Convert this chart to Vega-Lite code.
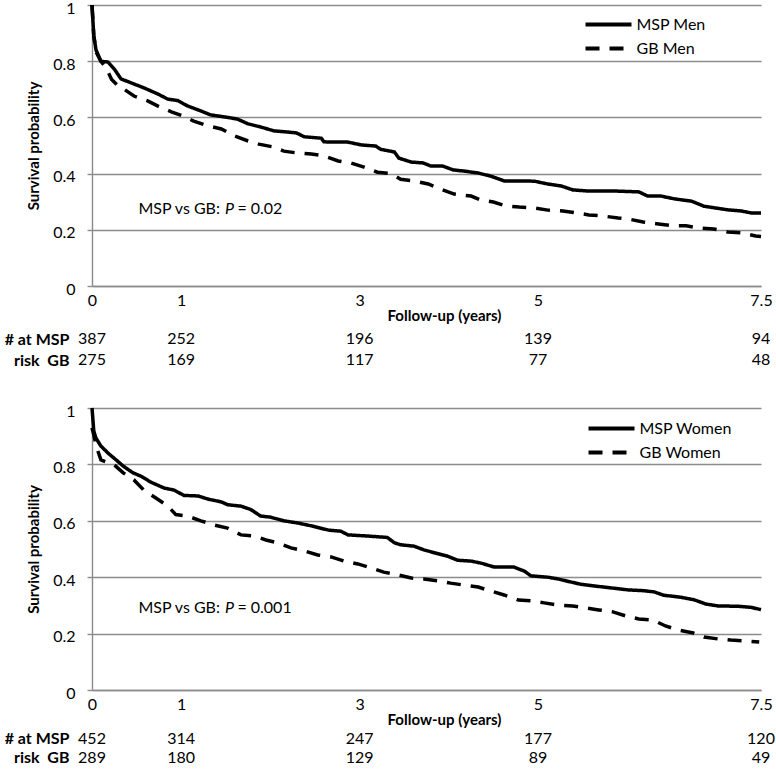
{
  "$schema": "https://vega.github.io/schema/vega-lite/v6.json",
  "padding": {"left": 4, "top": -2, "right": 5, "bottom": 0},
  "config": {
    "font": "Lato",
    "view": {"stroke": null},
    "axis": {"labelFont": "Lato", "labelFontSize": 16, "labelColor": "#000", "titleFont": "Lato", "titleFontSize": 15, "titleFontWeight": "bold", "titleColor": "#000", "gridColor": "#8c8c8c", "gridWidth": 1.4, "domainColor": "#8c8c8c", "domainWidth": 1.4, "tickColor": "#8c8c8c", "tickWidth": 1.4},
    "legend": {"orient": "none", "title": null, "symbolType": "M-2,0H2", "symbolSize": 529, "symbolStrokeWidth": 4, "symbolStrokeColor": "#000", "labelFont": "Lato", "labelFontSize": 16, "labelColor": "#000", "rowPadding": 2, "labelOffset": 14.5, "padding": 0}
  },
  "resolve": {"scale": {"strokeDash": "independent"}, "legend": {"strokeDash": "independent"}},
  "datasets": {
    "men": [
      {"g": "MSP Men", "t": 0, "s": 1.0}, {"g": "MSP Men", "t": 0.02, "s": 0.89}, {"g": "MSP Men", "t": 0.045, "s": 0.84}, {"g": "MSP Men", "t": 0.1, "s": 0.8}, {"g": "MSP Men", "t": 0.18, "s": 0.797}, {"g": "MSP Men", "t": 0.25, "s": 0.772}, {"g": "MSP Men", "t": 0.325, "s": 0.737}, {"g": "MSP Men", "t": 0.47, "s": 0.719}, {"g": "MSP Men", "t": 0.59, "s": 0.704}, {"g": "MSP Men", "t": 0.74, "s": 0.683}, {"g": "MSP Men", "t": 0.85, "s": 0.665}, {"g": "MSP Men", "t": 0.96, "s": 0.66}, {"g": "MSP Men", "t": 1.07, "s": 0.641}, {"g": "MSP Men", "t": 1.22, "s": 0.623}, {"g": "MSP Men", "t": 1.33, "s": 0.609}, {"g": "MSP Men", "t": 1.52, "s": 0.6}, {"g": "MSP Men", "t": 1.63, "s": 0.594}, {"g": "MSP Men", "t": 1.75, "s": 0.577}, {"g": "MSP Men", "t": 1.89, "s": 0.566}, {"g": "MSP Men", "t": 2.04, "s": 0.552}, {"g": "MSP Men", "t": 2.19, "s": 0.548}, {"g": "MSP Men", "t": 2.29, "s": 0.545}, {"g": "MSP Men", "t": 2.38, "s": 0.531}, {"g": "MSP Men", "t": 2.57, "s": 0.526}, {"g": "MSP Men", "t": 2.6, "s": 0.513}, {"g": "MSP Men", "t": 2.87, "s": 0.512}, {"g": "MSP Men", "t": 3.02, "s": 0.502}, {"g": "MSP Men", "t": 3.18, "s": 0.498}, {"g": "MSP Men", "t": 3.24, "s": 0.486}, {"g": "MSP Men", "t": 3.39, "s": 0.477}, {"g": "MSP Men", "t": 3.44, "s": 0.455}, {"g": "MSP Men", "t": 3.58, "s": 0.441}, {"g": "MSP Men", "t": 3.71, "s": 0.438}, {"g": "MSP Men", "t": 3.8, "s": 0.427}, {"g": "MSP Men", "t": 3.93, "s": 0.427}, {"g": "MSP Men", "t": 4.05, "s": 0.413}, {"g": "MSP Men", "t": 4.17, "s": 0.409}, {"g": "MSP Men", "t": 4.33, "s": 0.402}, {"g": "MSP Men", "t": 4.47, "s": 0.391}, {"g": "MSP Men", "t": 4.62, "s": 0.374}, {"g": "MSP Men", "t": 4.81, "s": 0.374}, {"g": "MSP Men", "t": 4.96, "s": 0.373}, {"g": "MSP Men", "t": 5.11, "s": 0.363}, {"g": "MSP Men", "t": 5.26, "s": 0.356}, {"g": "MSP Men", "t": 5.39, "s": 0.342}, {"g": "MSP Men", "t": 5.56, "s": 0.338}, {"g": "MSP Men", "t": 5.86, "s": 0.338}, {"g": "MSP Men", "t": 6.13, "s": 0.335}, {"g": "MSP Men", "t": 6.23, "s": 0.32}, {"g": "MSP Men", "t": 6.38, "s": 0.32}, {"g": "MSP Men", "t": 6.53, "s": 0.31}, {"g": "MSP Men", "t": 6.72, "s": 0.302}, {"g": "MSP Men", "t": 6.86, "s": 0.284}, {"g": "MSP Men", "t": 6.98, "s": 0.278}, {"g": "MSP Men", "t": 7.13, "s": 0.271}, {"g": "MSP Men", "t": 7.28, "s": 0.267}, {"g": "MSP Men", "t": 7.39, "s": 0.26}, {"g": "MSP Men", "t": 7.5, "s": 0.26},
      {"g": "GB Men", "t": 0, "s": 1.0}, {"g": "GB Men", "t": 0.02, "s": 0.89}, {"g": "GB Men", "t": 0.05, "s": 0.83}, {"g": "GB Men", "t": 0.1, "s": 0.8}, {"g": "GB Men", "t": 0.16, "s": 0.775}, {"g": "GB Men", "t": 0.22, "s": 0.735}, {"g": "GB Men", "t": 0.3, "s": 0.71}, {"g": "GB Men", "t": 0.36, "s": 0.7}, {"g": "GB Men", "t": 0.47, "s": 0.676}, {"g": "GB Men", "t": 0.63, "s": 0.658}, {"g": "GB Men", "t": 0.74, "s": 0.64}, {"g": "GB Men", "t": 0.89, "s": 0.62}, {"g": "GB Men", "t": 1.02, "s": 0.605}, {"g": "GB Men", "t": 1.14, "s": 0.587}, {"g": "GB Men", "t": 1.3, "s": 0.57}, {"g": "GB Men", "t": 1.45, "s": 0.559}, {"g": "GB Men", "t": 1.6, "s": 0.534}, {"g": "GB Men", "t": 1.75, "s": 0.516}, {"g": "GB Men", "t": 1.87, "s": 0.505}, {"g": "GB Men", "t": 2.03, "s": 0.495}, {"g": "GB Men", "t": 2.15, "s": 0.48}, {"g": "GB Men", "t": 2.31, "s": 0.473}, {"g": "GB Men", "t": 2.46, "s": 0.47}, {"g": "GB Men", "t": 2.6, "s": 0.463}, {"g": "GB Men", "t": 2.76, "s": 0.445}, {"g": "GB Men", "t": 2.9, "s": 0.438}, {"g": "GB Men", "t": 3.05, "s": 0.423}, {"g": "GB Men", "t": 3.2, "s": 0.405}, {"g": "GB Men", "t": 3.35, "s": 0.4}, {"g": "GB Men", "t": 3.46, "s": 0.38}, {"g": "GB Men", "t": 3.61, "s": 0.374}, {"g": "GB Men", "t": 3.77, "s": 0.363}, {"g": "GB Men", "t": 3.91, "s": 0.345}, {"g": "GB Men", "t": 4.06, "s": 0.327}, {"g": "GB Men", "t": 4.25, "s": 0.32}, {"g": "GB Men", "t": 4.36, "s": 0.306}, {"g": "GB Men", "t": 4.5, "s": 0.299}, {"g": "GB Men", "t": 4.64, "s": 0.285}, {"g": "GB Men", "t": 4.79, "s": 0.281}, {"g": "GB Men", "t": 4.96, "s": 0.278}, {"g": "GB Men", "t": 5.11, "s": 0.27}, {"g": "GB Men", "t": 5.28, "s": 0.267}, {"g": "GB Men", "t": 5.43, "s": 0.26}, {"g": "GB Men", "t": 5.57, "s": 0.253}, {"g": "GB Men", "t": 5.73, "s": 0.249}, {"g": "GB Men", "t": 5.9, "s": 0.242}, {"g": "GB Men", "t": 6.02, "s": 0.238}, {"g": "GB Men", "t": 6.18, "s": 0.228}, {"g": "GB Men", "t": 6.35, "s": 0.221}, {"g": "GB Men", "t": 6.51, "s": 0.214}, {"g": "GB Men", "t": 6.66, "s": 0.214}, {"g": "GB Men", "t": 6.81, "s": 0.206}, {"g": "GB Men", "t": 6.97, "s": 0.203}, {"g": "GB Men", "t": 7.13, "s": 0.192}, {"g": "GB Men", "t": 7.28, "s": 0.189}, {"g": "GB Men", "t": 7.44, "s": 0.178}, {"g": "GB Men", "t": 7.5, "s": 0.176}
    ],
    "women": [
      {"g": "MSP Women", "t": 0, "s": 1.0}, {"g": "MSP Women", "t": 0.02, "s": 0.918}, {"g": "MSP Women", "t": 0.045, "s": 0.893}, {"g": "MSP Women", "t": 0.1, "s": 0.865}, {"g": "MSP Women", "t": 0.18, "s": 0.84}, {"g": "MSP Women", "t": 0.27, "s": 0.816}, {"g": "MSP Women", "t": 0.35, "s": 0.794}, {"g": "MSP Women", "t": 0.46, "s": 0.77}, {"g": "MSP Women", "t": 0.55, "s": 0.758}, {"g": "MSP Women", "t": 0.66, "s": 0.737}, {"g": "MSP Women", "t": 0.81, "s": 0.716}, {"g": "MSP Women", "t": 0.92, "s": 0.709}, {"g": "MSP Women", "t": 1.03, "s": 0.69}, {"g": "MSP Women", "t": 1.19, "s": 0.688}, {"g": "MSP Women", "t": 1.3, "s": 0.677}, {"g": "MSP Women", "t": 1.45, "s": 0.667}, {"g": "MSP Women", "t": 1.52, "s": 0.657}, {"g": "MSP Women", "t": 1.67, "s": 0.652}, {"g": "MSP Women", "t": 1.78, "s": 0.64}, {"g": "MSP Women", "t": 1.89, "s": 0.617}, {"g": "MSP Women", "t": 2.0, "s": 0.613}, {"g": "MSP Women", "t": 2.15, "s": 0.6}, {"g": "MSP Women", "t": 2.31, "s": 0.592}, {"g": "MSP Women", "t": 2.46, "s": 0.582}, {"g": "MSP Women", "t": 2.65, "s": 0.567}, {"g": "MSP Women", "t": 2.79, "s": 0.563}, {"g": "MSP Women", "t": 2.87, "s": 0.55}, {"g": "MSP Women", "t": 3.09, "s": 0.546}, {"g": "MSP Women", "t": 3.31, "s": 0.541}, {"g": "MSP Women", "t": 3.39, "s": 0.522}, {"g": "MSP Women", "t": 3.46, "s": 0.515}, {"g": "MSP Women", "t": 3.61, "s": 0.51}, {"g": "MSP Women", "t": 3.72, "s": 0.497}, {"g": "MSP Women", "t": 3.88, "s": 0.483}, {"g": "MSP Women", "t": 3.99, "s": 0.474}, {"g": "MSP Women", "t": 4.1, "s": 0.46}, {"g": "MSP Women", "t": 4.25, "s": 0.457}, {"g": "MSP Women", "t": 4.36, "s": 0.45}, {"g": "MSP Women", "t": 4.51, "s": 0.436}, {"g": "MSP Women", "t": 4.73, "s": 0.436}, {"g": "MSP Women", "t": 4.85, "s": 0.421}, {"g": "MSP Women", "t": 4.92, "s": 0.405}, {"g": "MSP Women", "t": 5.11, "s": 0.4}, {"g": "MSP Women", "t": 5.22, "s": 0.394}, {"g": "MSP Women", "t": 5.34, "s": 0.385}, {"g": "MSP Women", "t": 5.48, "s": 0.375}, {"g": "MSP Women", "t": 5.63, "s": 0.369}, {"g": "MSP Women", "t": 5.82, "s": 0.362}, {"g": "MSP Women", "t": 6.01, "s": 0.355}, {"g": "MSP Women", "t": 6.19, "s": 0.352}, {"g": "MSP Women", "t": 6.3, "s": 0.348}, {"g": "MSP Women", "t": 6.41, "s": 0.336}, {"g": "MSP Women", "t": 6.6, "s": 0.329}, {"g": "MSP Women", "t": 6.75, "s": 0.32}, {"g": "MSP Women", "t": 6.88, "s": 0.305}, {"g": "MSP Women", "t": 7.02, "s": 0.298}, {"g": "MSP Women", "t": 7.24, "s": 0.297}, {"g": "MSP Women", "t": 7.39, "s": 0.293}, {"g": "MSP Women", "t": 7.5, "s": 0.285},
      {"g": "GB Women", "t": 0, "s": 0.93}, {"g": "GB Women", "t": 0.02, "s": 0.905}, {"g": "GB Women", "t": 0.05, "s": 0.862}, {"g": "GB Women", "t": 0.1, "s": 0.816}, {"g": "GB Women", "t": 0.25, "s": 0.798}, {"g": "GB Women", "t": 0.35, "s": 0.77}, {"g": "GB Women", "t": 0.47, "s": 0.745}, {"g": "GB Women", "t": 0.58, "s": 0.709}, {"g": "GB Women", "t": 0.72, "s": 0.68}, {"g": "GB Women", "t": 0.85, "s": 0.652}, {"g": "GB Women", "t": 0.94, "s": 0.622}, {"g": "GB Women", "t": 1.07, "s": 0.617}, {"g": "GB Women", "t": 1.22, "s": 0.6}, {"g": "GB Women", "t": 1.37, "s": 0.585}, {"g": "GB Women", "t": 1.52, "s": 0.574}, {"g": "GB Women", "t": 1.67, "s": 0.55}, {"g": "GB Women", "t": 1.82, "s": 0.546}, {"g": "GB Women", "t": 1.95, "s": 0.532}, {"g": "GB Women", "t": 2.09, "s": 0.521}, {"g": "GB Women", "t": 2.23, "s": 0.504}, {"g": "GB Women", "t": 2.38, "s": 0.493}, {"g": "GB Women", "t": 2.53, "s": 0.479}, {"g": "GB Women", "t": 2.68, "s": 0.472}, {"g": "GB Women", "t": 2.83, "s": 0.457}, {"g": "GB Women", "t": 2.98, "s": 0.447}, {"g": "GB Women", "t": 3.13, "s": 0.433}, {"g": "GB Women", "t": 3.27, "s": 0.418}, {"g": "GB Women", "t": 3.43, "s": 0.408}, {"g": "GB Women", "t": 3.58, "s": 0.397}, {"g": "GB Women", "t": 3.72, "s": 0.394}, {"g": "GB Women", "t": 3.88, "s": 0.387}, {"g": "GB Women", "t": 4.02, "s": 0.379}, {"g": "GB Women", "t": 4.17, "s": 0.372}, {"g": "GB Women", "t": 4.33, "s": 0.365}, {"g": "GB Women", "t": 4.47, "s": 0.351}, {"g": "GB Women", "t": 4.62, "s": 0.337}, {"g": "GB Women", "t": 4.78, "s": 0.319}, {"g": "GB Women", "t": 4.92, "s": 0.316}, {"g": "GB Women", "t": 5.07, "s": 0.309}, {"g": "GB Women", "t": 5.22, "s": 0.301}, {"g": "GB Women", "t": 5.39, "s": 0.298}, {"g": "GB Women", "t": 5.54, "s": 0.291}, {"g": "GB Women", "t": 5.68, "s": 0.284}, {"g": "GB Women", "t": 5.84, "s": 0.277}, {"g": "GB Women", "t": 5.99, "s": 0.262}, {"g": "GB Women", "t": 6.13, "s": 0.252}, {"g": "GB Women", "t": 6.29, "s": 0.248}, {"g": "GB Women", "t": 6.43, "s": 0.227}, {"g": "GB Women", "t": 6.57, "s": 0.213}, {"g": "GB Women", "t": 6.74, "s": 0.202}, {"g": "GB Women", "t": 6.86, "s": 0.188}, {"g": "GB Women", "t": 7.02, "s": 0.181}, {"g": "GB Women", "t": 7.16, "s": 0.177}, {"g": "GB Women", "t": 7.33, "s": 0.174}, {"g": "GB Women", "t": 7.48, "s": 0.17}
    ],
    "annoMen": [
      {"t": 0.52, "s": 0.274, "label": "MSP vs GB:", "part": "plain"},
      {"t": 1.49, "s": 0.274, "label": "P", "part": "italic"},
      {"t": 1.63, "s": 0.274, "label": "= 0.02", "part": "plain"}
    ],
    "annoWomen": [
      {"t": 0.52, "s": 0.291, "label": "MSP vs GB:", "part": "plain"},
      {"t": 1.49, "s": 0.291, "label": "P", "part": "italic"},
      {"t": 1.63, "s": 0.291, "label": "= 0.001", "part": "plain"}
    ],
    "riskMen": [
      {"row": "# at MSP", "t": 0, "n": 387}, {"row": "# at MSP", "t": 1, "n": 252}, {"row": "# at MSP", "t": 3, "n": 196}, {"row": "# at MSP", "t": 5, "n": 139}, {"row": "# at MSP", "t": 7.5, "n": 94},
      {"row": "risk\u00a0 GB", "t": 0, "n": 275}, {"row": "risk\u00a0 GB", "t": 1, "n": 169}, {"row": "risk\u00a0 GB", "t": 3, "n": 117}, {"row": "risk\u00a0 GB", "t": 5, "n": 77}, {"row": "risk\u00a0 GB", "t": 7.5, "n": 48}
    ],
    "riskWomen": [
      {"row": "# at MSP", "t": 0, "n": 452}, {"row": "# at MSP", "t": 1, "n": 314}, {"row": "# at MSP", "t": 3, "n": 247}, {"row": "# at MSP", "t": 5, "n": 177}, {"row": "# at MSP", "t": 7.5, "n": 120},
      {"row": "risk\u00a0 GB", "t": 0, "n": 289}, {"row": "risk\u00a0 GB", "t": 1, "n": 180}, {"row": "risk\u00a0 GB", "t": 3, "n": 129}, {"row": "risk\u00a0 GB", "t": 5, "n": 89}, {"row": "risk\u00a0 GB", "t": 7.5, "n": 49}
    ]
  },
  "bounds": "flush",
  "spacing": 30,
  "vconcat": [
    {
      "width": 669, "height": 281,
      "layer": [
        {
          "data": {"name": "men"},
          "mark": {"type": "line", "strokeWidth": 3.5, "color": "#000"},
          "encoding": {
            "x": {"field": "t", "type": "quantitative", "scale": {"domain": [0, 7.5], "nice": false, "zero": false},
                  "axis": {"values": [0, 1, 3, 5, 7.5], "format": "~g", "grid": false, "ticks": false, "labelPadding": 6, "labelFlush": false, "title": "Follow-up (years)", "titleX": 352, "titleY": 22, "titleBaseline": "top", "titleAlign": "center"}},
            "y": {"field": "s", "type": "quantitative", "scale": {"domain": [0, 1], "nice": false},
                  "axis": {"title": "Survival probability", "values": [0, 0.2, 0.4, 0.6, 0.8, 1], "format": "~g", "grid": true, "tickSize": 5, "labelPadding": 12, "labelFlush": false, "labelOffset": 3, "titlePadding": 11}},
            "strokeDash": {"field": "g", "type": "nominal", "scale": {"domain": ["MSP Men", "GB Men"], "range": [[1, 0], [14, 10]]}, "legend": {"legendX": 503, "legendY": 6}}
          }
        },
        {
          "data": {"name": "annoMen"},
          "transform": [{"filter": "datum.part == 'plain'"}],
          "mark": {"type": "text", "align": "left", "baseline": "middle", "fontSize": 16, "font": "Lato", "color": "#000"},
          "encoding": {"x": {"field": "t", "type": "quantitative"}, "y": {"field": "s", "type": "quantitative"}, "text": {"field": "label"}}
        },
        {
          "data": {"name": "annoMen"},
          "transform": [{"filter": "datum.part == 'italic'"}],
          "mark": {"type": "text", "align": "left", "baseline": "middle", "fontSize": 16, "font": "Lato", "fontStyle": "italic", "color": "#000"},
          "encoding": {"x": {"field": "t", "type": "quantitative"}, "y": {"field": "s", "type": "quantitative"}, "text": {"field": "label"}}
        }
      ]
    },
    {
      "width": 669, "height": 62,
      "data": {"name": "riskMen"},
      "mark": {"type": "text", "fontSize": 16, "font": "Lato", "color": "#000"},
      "encoding": {
        "x": {"field": "t", "type": "quantitative", "scale": {"domain": [0, 7.5], "nice": false, "zero": false}, "axis": null},
        "y": {"field": "row", "type": "nominal", "sort": ["# at MSP", "risk\u00a0 GB"], "scale": {"padding": 1.222, "align": 0.568}, "axis": {"title": null, "domain": false, "ticks": false, "grid": false, "labelFontWeight": "bold", "labelPadding": 23}},
        "text": {"field": "n", "type": "quantitative"}
      }
    },
    {
      "width": 669, "height": 282,
      "layer": [
        {
          "data": {"name": "women"},
          "mark": {"type": "line", "strokeWidth": 3.5, "color": "#000"},
          "encoding": {
            "x": {"field": "t", "type": "quantitative", "scale": {"domain": [0, 7.5], "nice": false, "zero": false},
                  "axis": {"values": [0, 1, 3, 5, 7.5], "format": "~g", "grid": false, "ticks": false, "labelPadding": 6, "labelFlush": false, "title": "Follow-up (years)", "titleX": 352, "titleY": 22, "titleBaseline": "top", "titleAlign": "center"}},
            "y": {"field": "s", "type": "quantitative", "scale": {"domain": [0, 1], "nice": false},
                  "axis": {"title": "Survival probability", "values": [0, 0.2, 0.4, 0.6, 0.8, 1], "format": "~g", "grid": true, "tickSize": 5, "labelPadding": 12, "labelFlush": false, "labelOffset": 3, "titlePadding": 11}},
            "strokeDash": {"field": "g", "type": "nominal", "scale": {"domain": ["MSP Women", "GB Women"], "range": [[1, 0], [14, 10]]}, "legend": {"legendX": 506, "legendY": 7}}
          }
        },
        {
          "data": {"name": "annoWomen"},
          "transform": [{"filter": "datum.part == 'plain'"}],
          "mark": {"type": "text", "align": "left", "baseline": "middle", "fontSize": 16, "font": "Lato", "color": "#000"},
          "encoding": {"x": {"field": "t", "type": "quantitative"}, "y": {"field": "s", "type": "quantitative"}, "text": {"field": "label"}}
        },
        {
          "data": {"name": "annoWomen"},
          "transform": [{"filter": "datum.part == 'italic'"}],
          "mark": {"type": "text", "align": "left", "baseline": "middle", "fontSize": 16, "font": "Lato", "fontStyle": "italic", "color": "#000"},
          "encoding": {"x": {"field": "t", "type": "quantitative"}, "y": {"field": "s", "type": "quantitative"}, "text": {"field": "label"}}
        }
      ]
    },
    {
      "width": 669, "height": 43,
      "data": {"name": "riskWomen"},
      "mark": {"type": "text", "fontSize": 16, "font": "Lato", "color": "#000"},
      "encoding": {
        "x": {"field": "t", "type": "quantitative", "scale": {"domain": [0, 7.5], "nice": false, "zero": false}, "axis": null},
        "y": {"field": "row", "type": "nominal", "sort": ["# at MSP", "risk\u00a0 GB"], "scale": {"padding": 0.632, "align": 0.79}, "axis": {"title": null, "domain": false, "ticks": false, "grid": false, "labelFontWeight": "bold", "labelPadding": 23}},
        "text": {"field": "n", "type": "quantitative"}
      }
    }
  ]
}
